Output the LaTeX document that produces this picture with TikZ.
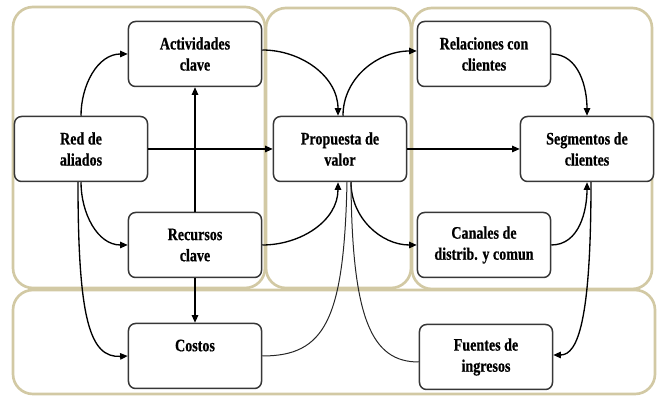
\documentclass[tikz,border=0pt]{standalone}
\usepackage{fontspec}
\setmainfont{Liberation Serif}
\newfontfamily\cardfont[FakeStretch=0.8,FakeBold=0.6]{Liberation Serif}
\usetikzlibrary{calc,positioning,backgrounds,fit,arrows.meta}
\definecolor{zonetan}{RGB}{210,201,164}
\definecolor{cardgray}{RGB}{55,55,55}

\begin{document}
\begin{tikzpicture}[
	x=0.03cm, y=-0.03cm,
	align=center,
        >={Triangle[length=6.5pt,width=5.5pt]},
	line width=0.4mm,
        cardit/.style={
      	draw=cardgray,
      	fill=white,
      	rounded corners=6pt,
      	line width=0.45mm,
		minimum width=3.99cm,
		minimum height=1.95cm,
		font=\cardfont\bfseries\fontsize{15}{18}\selectfont
        },
	zoneit/.style={
    	draw=#1,
		line width=0.8mm,
		rounded corners=17pt,
		inner sep=0pt
	},
	zoneit/.default=zonetan,
	thinlink/.style={line width=0.3mm, black!85}
  	]
    \useasboundingbox (0,0) rectangle (658,399);

    % blocks
    \node[cardit] at (195,54) (act) {Actividades\\clave};
    \node[cardit] at (81,149) (red) {Red de\\aliados};
    \node[cardit] at (195,245) (rec) {Recursos\\clave};
    \node[cardit] at (340,149) (prop) {Propuesta de\\valor};
    \node[cardit] at (484,54) (rel) {Relaciones con\\clientes};
    \node[cardit] at (587,149) (seg) {Segmentos de\\clientes};
    \node[cardit] at (484,245) (can) {Canales de\\distrib. y comun};
    \node[cardit] at (195,356) (cos) {Costos\\~};
    \node[cardit] at (486,357) (fue) {Fuentes de\\ingresos};

    % left side
    \draw[->] (red.north) to[out=90,in=180] (act.west);
    \draw[->] (red.south) to[out=-90,in=180] (rec.west);
    \draw[->] ($(red.south)+(-3,0)$) .. controls (78,320) and (90,358) .. (cos.west);
    \draw[->] (red.east) -- (prop.west);
    \draw[->] (rec.north) -- (act.south);
    \draw[->] (rec.south) -- (cos.north);

    % into and out of the value box
    \draw[->] ($(act.east)+(0,-4)$) to[out=0,in=90] ($(prop.north)+(-2,0)$);
    \draw[->] ($(prop.north)+(3,0)$) to[out=90,in=180] ($(rel.west)+(0,-3)$);
    \draw[->] (rec.east) to[out=0,in=-90] ($(prop.south)+(-2,0)$);
    \draw[->] ($(prop.south)+(11,0)$) to[out=-90,in=180] (can.west);
    \draw[->] (prop.east) -- (seg.west);
    \draw[thinlink] (cos.east) .. controls (325,356) and (344,320) .. ($(prop.south)+(7,0)$);
    \draw[thinlink] ($(fue.west)+(0,5)$) .. controls (372,362) and (352,320) .. ($(prop.south)+(11,0)$);

    % right side
    \draw[->] (rel.east) to[out=0,in=90] (seg.north);
    \draw[->] (can.east) to[out=0,in=-90] (seg.south);
    \draw[->] ($(seg.south)+(4,0)$) .. controls (591,320) and (578,355) .. ($(fue.east)+(0,-2)$);

    % zones
    \begin{scope}[on background layer]
    \coordinate (ltl) at (13,7);
    \coordinate (lbr) at (265,288);
    \coordinate (mtl) at (266,8);
    \coordinate (mbr) at (411,288);
    \coordinate (rtl) at (412,8);
    \coordinate (rbr) at (652,289);
    \coordinate (btl) at (13,290);
    \coordinate (bbr) at (655,394);
    \node[zoneit, fit=(ltl)(lbr)] (leftzone) {};
    \node[zoneit, fit=(mtl)(mbr)] (midzone) {};
    \node[zoneit, fit=(rtl)(rbr)] (rightzone) {};
    \node[zoneit, fit=(btl)(bbr)] (bottomzone) {};
    \end{scope}

\end{tikzpicture}
\end{document}
